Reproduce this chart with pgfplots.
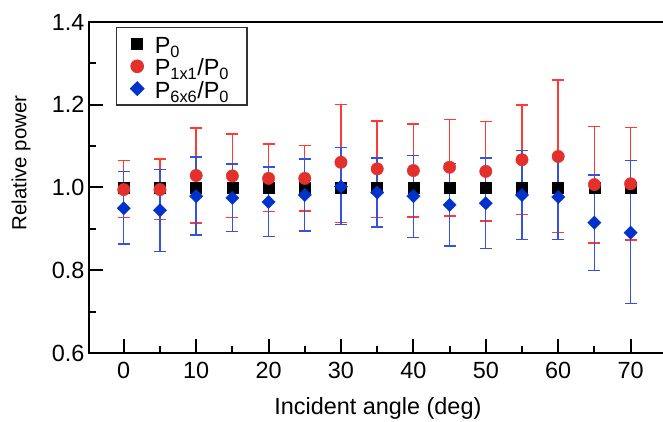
\documentclass[border=0pt]{standalone}
\usepackage{fontspec}
\setmainfont{Liberation Sans}
\usepackage{pgfplots}
\usepackage{pgfplotstable}
\pgfplotsset{compat=1.18}
\definecolor{redm}{HTML}{E3302A}
\definecolor{rede}{HTML}{FF3A35}
\definecolor{bluem}{HTML}{0033CC}
\definecolor{bluee}{HTML}{3352E0}
\newcommand{\ls}{\rule[-2.85bp]{0pt}{23.7bp}}

\pgfplotstableread{
ang y
0 1.0
5 1.0
10 1.0
15 1.0
20 1.0
25 1.0
30 1.0
35 1.0
40 1.0
45 1.0
50 1.0
55 1.0
60 1.0
65 1.0
70 1.0
}\Pzero

\pgfplotstableread{
ang y ep em
0 0.995 0.070 0.067
5 0.995 0.074 0.073
10 1.029 0.115 0.115
15 1.028 0.101 0.101
20 1.022 0.083 0.080
25 1.022 0.079 0.079
30 1.061 0.140 0.146
35 1.045 0.116 0.117
40 1.041 0.112 0.112
45 1.049 0.115 0.118
50 1.039 0.120 0.120
55 1.067 0.132 0.132
60 1.075 0.185 0.184
65 1.007 0.140 0.141
70 1.009 0.136 0.136
}\Pone

\pgfplotstableread{
ang y ep em
0 0.950 0.089 0.087
5 0.945 0.098 0.099
10 0.979 0.095 0.094
15 0.975 0.082 0.081
20 0.965 0.085 0.084
25 0.982 0.087 0.087
30 1.002 0.095 0.091
35 0.988 0.083 0.083
40 0.979 0.098 0.100
45 0.958 0.100 0.099
50 0.962 0.109 0.109
55 0.982 0.108 0.108
60 0.977 0.098 0.102
65 0.915 0.115 0.115
70 0.891 0.174 0.171
}\Psix

\begin{document}
\begin{tikzpicture}
\useasboundingbox (0,0) rectangle (663bp,422bp);
\begin{axis}[
  at={(89bp,69bp)}, anchor=south west,
  scale only axis,
  width=577.8bp, height=331bp,
  xmin=-4.8, xmax=75,
  ymin=0.6, ymax=1.4,
  xtick={0,10,...,70},
  ytick={0.6,0.8,...,1.41},
  minor x tick num=1,
  minor y tick num=1,
  tick pos=left,
  tick align=inside,
  major tick length=14bp,
  minor tick length=7bp,
  axis line style={line width=2.4bp, black},
  every tick/.style={line width=2bp, black},
  /pgf/number format/assume math mode=true,
  tick label style={font=\fontsize{23.5}{28}\selectfont},
  xticklabel style={yshift=-6bp},
  yticklabel style={xshift=-1bp, /pgf/number format/.cd, fixed, fixed zerofill, precision=1},
  xlabel={Incident angle (deg)},
  ylabel={Relative power},
  every axis x label/.style={at={(axis description cs:0.5,-0.187)}, anchor=base, font=\fontsize{23.5}{28}\selectfont},
  every axis y label/.style={at={(axis description cs:-0.1177,0.574)}, anchor=center, rotate=90, font=\fontsize{20.5}{24}\selectfont},
  legend style={at={(axis description cs:0.0467,0.985)}, anchor=north west,
    draw=black!80, line width=1.2bp, font=\fontsize{23.5}{24}\selectfont,
    inner xsep=4bp, inner ysep=5.2bp, row sep=0pt, column sep=1bp,
    nodes={inner sep=0pt}},
  legend cell align=left,
  legend image code/.code={\path (0bp,0bp) (32bp,0bp); \draw[#1] plot coordinates {(16bp,0bp)};},
]
\addplot[only marks, mark=square*, mark size=5.5bp, black] table[x=ang, y=y] {\Pzero};
\addlegendentry{\ls P\textsubscript{0}}
\addplot[only marks, mark=*, mark size=6.2bp, color=redm,
  error bars/.cd, y dir=both, y explicit,
  error bar style={line width=1.4bp, color=rede},
  error mark options={rotate=90, mark size=6bp, line width=1.4bp, color=rede}]
  table[x=ang, y=y, y error plus=ep, y error minus=em] {\Pone};
\addlegendentry{\ls P\textsubscript{1x1}/P\textsubscript{0}}
\addplot[only marks, mark=square*, mark options={rotate=45}, mark size=4.7bp, color=bluem,
  error bars/.cd, y dir=both, y explicit,
  error bar style={line width=1.4bp, color=bluee},
  error mark options={rotate=90, mark size=6bp, line width=1.4bp, color=bluee}]
  table[x=ang, y=y, y error plus=ep, y error minus=em] {\Psix};
\addlegendentry{\ls P\textsubscript{6x6}/P\textsubscript{0}\kern14bp}
\end{axis}
\end{tikzpicture}
\end{document}
